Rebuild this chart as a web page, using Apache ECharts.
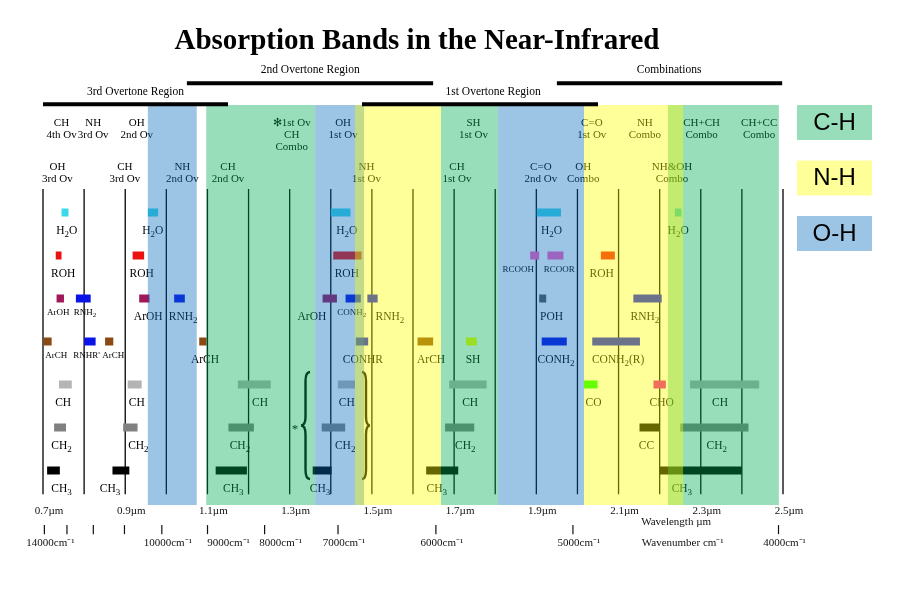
<!DOCTYPE html>
<html><head><meta charset="utf-8">
<script src="https://cdn.jsdelivr.net/npm/echarts/dist/echarts.min.js"></script>
<style>html,body{margin:0;padding:0;background:#fff}#c{width:920px;height:614px}</style>
</head><body><div id="c"></div>
<script>
// ================= DATA =================
const titleText = 'Absorption Bands in the Near-Infrared';
// coloured bands [from µm, to µm]
const bandsCH = [[1.097, 1.362], [1.668, 1.807], [2.22, 2.49]];
const bandsOH = [[0.955, 1.074], [1.362, 1.481], [1.807, 2.016]];
const bandsNH = [[1.459, 1.668], [2.016, 2.257]];
const legendItems = [['C-H', 'CH'], ['N-H', 'NH'], ['O-H', 'OH']];
// vertical guide lines (µm)
const gridLines = [0.7, 0.8, 0.9, 1.0, 1.1, 1.2, 1.3, 1.4, 1.5, 1.6, 1.7, 1.8, 1.9, 2.0, 2.1, 2.2, 2.3, 2.4, 2.5];
// overtone regions [label, from µm, to µm, level, label centre µm]
const regions = [
  ['2nd Overtone Region', 1.05, 1.649, 1, 1.35],
  ['Combinations', 1.95, 2.498, 1, 2.223],
  ['3rd Overtone Region', 0.70, 1.15, 2, 0.925],
  ['1st Overtone Region', 1.476, 2.05, 2, 1.795]
];
// header labels [text, µm]
const headerRow1 = [
  ['CH\n4th Ov', 0.745], ['NH\n3rd Ov', 0.822], ['OH\n2nd Ov', 0.928], ['\u273B1st Ov\nCH\nCombo', 1.305],
  ['OH\n1st Ov', 1.430], ['SH\n1st Ov', 1.747], ['C=O\n1st Ov', 2.035], ['NH\nCombo', 2.164],
  ['CH+CH\nCombo', 2.302], ['CH+CC\nCombo', 2.442]
];
const headerRow2 = [
  ['OH\n3rd Ov', 0.735], ['CH\n3rd Ov', 0.899], ['NH\n2nd Ov', 1.039], ['CH\n2nd Ov', 1.150],
  ['NH\n1st Ov', 1.487], ['CH\n1st Ov', 1.707], ['C=O\n2nd Ov', 1.911], ['OH\nCombo', 2.014], ['NH&OH\nCombo', 2.230]
];
// absorption bars [from µm, to µm, row, group]
const bars = [
  [0.745, 0.762, 0, 'h2o'], [0.955, 0.980, 0, 'h2o'], [1.400, 1.448, 0, 'h2o'], [1.901, 1.960, 0, 'h2o'], [2.237, 2.253, 0, 'h2o'],
  [0.731, 0.745, 1, 'roh'], [0.918, 0.946, 1, 'roh'], [1.406, 1.475, 1, 'roh'], [1.885, 1.907, 1, 'rcoo'], [1.927, 1.966, 1, 'rcoo'], [2.057, 2.091, 1, 'roh'],
  [0.733, 0.751, 2, 'aroh'], [0.780, 0.816, 2, 'rnh'], [0.934, 0.959, 2, 'aroh'], [1.019, 1.045, 2, 'rnh'], [1.380, 1.415, 2, 'aroh'],
  [1.436, 1.473, 2, 'rnh'], [1.489, 1.514, 2, 'rnh'], [1.907, 1.924, 2, 'poh'], [2.136, 2.205, 2, 'rnh'],
  [0.701, 0.721, 3, 'arch'], [0.800, 0.828, 3, 'rnh'], [0.851, 0.871, 3, 'arch'], [1.080, 1.098, 3, 'arch'], [1.461, 1.491, 3, 'rnh'],
  [1.611, 1.649, 3, 'arch'], [1.729, 1.755, 3, 'sh'], [1.913, 1.974, 3, 'rnh'], [2.036, 2.152, 3, 'rnh'],
  [0.739, 0.770, 4, 'ch'], [0.906, 0.940, 4, 'ch'], [1.174, 1.254, 4, 'ch'], [1.417, 1.459, 4, 'ch'], [1.688, 1.779, 4, 'ch'],
  [2.016, 2.049, 4, 'co'], [2.185, 2.215, 4, 'cho'], [2.274, 2.442, 4, 'ch'],
  [0.727, 0.756, 5, 'ch2'], [0.895, 0.930, 5, 'ch2'], [1.151, 1.213, 5, 'ch2'], [1.378, 1.435, 5, 'ch2'], [1.678, 1.749, 5, 'ch2'],
  [2.151, 2.199, 5, 'cc'], [2.250, 2.416, 5, 'ch2'],
  [0.710, 0.741, 6, 'ch3'], [0.869, 0.910, 6, 'ch3'], [1.120, 1.196, 6, 'ch3'], [1.356, 1.402, 6, 'ch3'], [1.632, 1.710, 6, 'ch3'], [2.200, 2.400, 6, 'ch3']
];
// bar labels [text ('_' = subscript), µm, row, small]
const rowLabels = [
  ['H_2O', 0.758, 0, 0], ['H_2O', 0.967, 0, 0], ['H_2O', 1.439, 0, 0], ['H_2O', 1.937, 0, 0], ['H_2O', 2.245, 0, 0],
  ['ROH', 0.749, 1, 0], ['ROH', 0.940, 1, 0], ['ROH', 1.439, 1, 0], ['RCOOH', 1.856, 1, 1], ['RCOOR', 1.956, 1, 1], ['ROH', 2.059, 1, 0],
  ['ArOH', 0.737, 2, 1], ['RNH_2', 0.802, 2, 1], ['ArOH', 0.956, 2, 0], ['RNH_2', 1.041, 2, 0], ['ArOH', 1.354, 2, 0],
  ['CONH_2', 1.451, 2, 1], ['RNH_2', 1.544, 2, 0], ['POH', 1.937, 2, 0], ['RNH_2', 2.164, 2, 0],
  ['ArCH', 0.732, 3, 1], ["RNHR'", 0.806, 3, 1], ['ArCH', 0.871, 3, 1], ['ArCH', 1.094, 3, 0], ['CONHR', 1.478, 3, 0],
  ['ArCH', 1.644, 3, 0], ['SH', 1.746, 3, 0], ['CONH_2', 1.948, 3, 0], ['CONH_2(R)', 2.099, 3, 0],
  ['CH', 0.749, 4, 0], ['CH', 0.928, 4, 0], ['CH', 1.228, 4, 0], ['CH', 1.439, 4, 0], ['CH', 1.739, 4, 0],
  ['CO', 2.039, 4, 0], ['CHO', 2.205, 4, 0], ['CH', 2.347, 4, 0],
  ['CH_2', 0.745, 5, 0], ['CH_2', 0.932, 5, 0], ['CH_2', 1.179, 5, 0], ['CH_2', 1.435, 5, 0], ['CH_2', 1.727, 5, 0],
  ['CC', 2.168, 5, 0], ['CH_2', 2.339, 5, 0],
  ['CH_3', 0.745, 6, 0], ['CH_3', 0.863, 6, 0], ['CH_3', 1.163, 6, 0], ['CH_3', 1.374, 6, 0], ['CH_3', 1.658, 6, 0], ['CH_3', 2.254, 6, 0]
];
// braces around the CH rows [tip µm, end µm, mark]
const braces = [[1.3276, 1.3495, '*'], [1.4954, 1.476, '']];
const braceRows = [4, 6];
// bottom axes
const wavelengthTicks = [0.7, 0.9, 1.1, 1.3, 1.5, 1.7, 1.9, 2.1, 2.3, 2.5];
const wavenumberTicks = [14000, 13000, 12000, 11000, 10000, 9000, 8000, 7000, 6000, 5000, 4000];
const wavenumberLabels = [14000, 10000, 9000, 8000, 7000, 6000, 5000, 4000];
const axisNames = [['Wavelength \u00b5m', 2.240, 'len'], ['Wavenumber cm\u207b\u00b9', 2.256, 'num']];

// ================= STYLE / LAYOUT =================
const SERIF = '"Liberation Serif","Times New Roman",serif';
const SANS = '"Liberation Sans",Arial,sans-serif';
const BAND_FILL = { CH: 'rgba(0,173,83,0.4)', NH: 'rgba(255,255,0,0.4)', OH: 'rgba(5,108,190,0.4)' };
const BAR_COLORS = {
  h2o: '#3cd8e8', roh: '#ee1111', aroh: '#a01858', rnh: '#0a14e6', arch: '#8b4a14', ch: '#b4b4b4',
  ch2: '#808080', ch3: '#000000', rcoo: '#ff60c0', poh: '#555555', sh: '#ffff00', co: '#00ff00', cho: '#e6109a', cc: '#000000'
};
const BAR_H = 8;
const BAND_TOP = -2.5, BAND_BOTTOM = 6.8;
const LINE_TOP = -0.547, LINE_BOTTOM = 6.55;
const HEADER_FIRST_LINE = [-2.08, -1.05];
const HEADER_LH = 11.8;
const REGION_LINE_Y = { 1: -3.005, 2: -2.516 }, REGION_LABEL_Y = { 1: -3.314, 2: -2.81 };
const WL_LABEL_Y = 6.94, WN_TICK_Y0 = 7.27, WN_TICK_Y1 = 7.48, WN_LABEL_Y = 7.68, NAME_Y = { len: 7.19, num: 7.68 };
const WN_TICK_SHIFT = -4.5, WN_LABEL_SHIFT = { 9000: 15, 8000: 10 };

function richText(t) {
  return ('{n|' + t.replace(/_(\d)/g, '}{s|$1}{n|') + '}').replace(/\{n\|\}/g, '');
}

const allBands = [].concat(
  bandsCH.map(b => ['CH', b[0], b[1]]),
  bandsOH.map(b => ['OH', b[0], b[1]]),
  bandsNH.map(b => ['NH', b[0], b[1]])
);
const headers = [].concat(headerRow1.map(h => [h[0], h[1], 0]), headerRow2.map(h => [h[0], h[1], 1]));

const chart = echarts.init(document.getElementById('c'));
const option = {
  animation: false,
  backgroundColor: '#fff',
  grid: { left: 43, width: 740, top: 40.5, height: 537.5 },
  xAxis: { type: 'value', min: 0.7, max: 2.5, show: false },
  yAxis: { type: 'value', min: -4, max: 8.5, inverse: true, show: false },
  graphic: [
    { type: 'text', x: 417, y: 42, z: 100, style: { text: titleText, align: 'center', verticalAlign: 'middle', fill: '#000', font: 'bold 29px ' + SERIF } }
  ].concat(legendItems.map((l, i) => ({
    type: 'group', x: 797, y: 105 + 55.5 * i, z: 100,
    children: [
      { type: 'rect', shape: { x: 0, y: 0, width: 75, height: 35 }, style: { fill: BAND_FILL[l[1]] } },
      { type: 'text', x: 37.5, y: 18, style: { text: l[0], align: 'center', verticalAlign: 'middle', fill: '#000', font: '24px ' + SANS } }
    ]
  }))),
  series: [
    { // vertical guide lines
      type: 'custom', z: 1, silent: true, data: gridLines.map(v => [v, 0]),
      renderItem: (p, api) => {
        const v = gridLines[p.dataIndex];
        const a = api.coord([v, LINE_TOP]), b = api.coord([v, LINE_BOTTOM]);
        return { type: 'line', shape: { x1: a[0], y1: a[1], x2: b[0], y2: b[1] }, style: { stroke: '#000', lineWidth: 1.3 } };
      }
    },
    { // absorption bars
      type: 'custom', z: 2, silent: true, data: bars.map(b => [b[0], b[2]]),
      renderItem: (p, api) => {
        const b = bars[p.dataIndex];
        const a = api.coord([b[0], b[2]]), c = api.coord([b[1], b[2]]);
        return { type: 'rect', shape: { x: a[0], y: a[1] - BAR_H / 2, width: c[0] - a[0], height: BAR_H }, style: { fill: BAR_COLORS[b[3]] } };
      }
    },
    { // bar labels
      type: 'custom', z: 3, silent: true, data: rowLabels.map(l => [l[1], l[2]]),
      renderItem: (p, api) => {
        const l = rowLabels[p.dataIndex];
        const small = l[3] === 1;
        const fs = small ? 9 : 11.5;
        const pt = api.coord([l[1], l[2]]);
        return {
          type: 'text', x: pt[0], y: pt[1] + (small ? 14 : 18),
          style: {
            text: richText(l[0]), align: 'center', verticalAlign: 'middle', fill: '#000',
            rich: {
              n: { fontSize: fs, fontFamily: SERIF, fill: '#000' },
              s: { fontSize: small ? 7 : 9, fontFamily: SERIF, fill: '#000', padding: [small ? 6 : 8, 0, 0, 0] }
            }
          }
        };
      }
    },
    { // header labels
      type: 'custom', z: 3, silent: true, data: headers.map(h => [h[1], HEADER_FIRST_LINE[h[2]]]),
      renderItem: (p, api) => {
        const h = headers[p.dataIndex];
        const pt = api.coord([h[1], HEADER_FIRST_LINE[h[2]]]);
        return {
          type: 'text', x: pt[0], y: pt[1] - HEADER_LH / 2,
          style: { text: h[0], align: 'center', verticalAlign: 'top', lineHeight: HEADER_LH, fill: '#000', fontSize: 11, fontFamily: SERIF }
        };
      }
    },
    { // braces
      type: 'custom', z: 3, silent: true, data: braces.map(b => [b[0], braceRows[0]]),
      renderItem: (p, api) => {
        const b = braces[p.dataIndex];
        const top = api.coord([b[1], braceRows[0] - 0.29]);
        const bot = api.coord([b[1], braceRows[1] + 0.2]);
        const tipX = api.coord([b[0], 0])[0];
        const endX = top[0];
        const midX = (tipX + endX) / 2;
        const yT = top[1], yB = bot[1], yC = (yT + yB) / 2, d = 9;
        const path = 'M' + endX + ' ' + yT + ' Q' + midX + ' ' + yT + ' ' + midX + ' ' + (yT + d) +
          ' L' + midX + ' ' + (yC - d) + ' Q' + midX + ' ' + yC + ' ' + tipX + ' ' + yC +
          ' Q' + midX + ' ' + yC + ' ' + midX + ' ' + (yC + d) +
          ' L' + midX + ' ' + (yB - d) + ' Q' + midX + ' ' + yB + ' ' + endX + ' ' + yB;
        const children = [{ type: 'path', shape: { pathData: path }, style: { fill: 'none', stroke: '#000', lineWidth: 2.4 } }];
        if (b[2]) children.push({ type: 'text', x: tipX - 6, y: yC + 4, style: { text: b[2], align: 'center', verticalAlign: 'middle', fill: '#000', fontSize: 13, fontFamily: SERIF } });
        return { type: 'group', children: children };
      }
    },
    { // translucent coloured bands (on top, tinting what is under them)
      type: 'custom', z: 5, silent: true, data: allBands.map(b => [b[1], BAND_TOP]),
      renderItem: (p, api) => {
        const b = allBands[p.dataIndex];
        const a = api.coord([b[1], BAND_TOP]), c = api.coord([b[2], BAND_BOTTOM]);
        return { type: 'rect', shape: { x: a[0], y: a[1], width: c[0] - a[0], height: c[1] - a[1] }, style: { fill: BAND_FILL[b[0]] } };
      }
    },
    { // overtone region bars and titles
      type: 'custom', z: 6, silent: true, data: regions.map(r => [r[1], REGION_LINE_Y[r[3]]]),
      renderItem: (p, api) => {
        const r = regions[p.dataIndex];
        const a = api.coord([r[1], REGION_LINE_Y[r[3]]]), c = api.coord([r[2], REGION_LINE_Y[r[3]]]);
        const t = api.coord([r[4], REGION_LABEL_Y[r[3]]]);
        return {
          type: 'group', children: [
            { type: 'rect', shape: { x: a[0], y: a[1] - 2, width: c[0] - a[0], height: 4 }, style: { fill: '#000' } },
            { type: 'text', x: t[0], y: t[1], style: { text: r[0], align: 'center', verticalAlign: 'middle', fill: '#000', fontSize: 11.5, fontFamily: SERIF } }
          ]
        };
      }
    },
    { // wavelength labels
      type: 'custom', z: 6, silent: true, data: wavelengthTicks.map(v => [v, WL_LABEL_Y]),
      renderItem: (p, api) => {
        const v = wavelengthTicks[p.dataIndex];
        const pt = api.coord([v, WL_LABEL_Y]);
        return { type: 'text', x: pt[0] + 6, y: pt[1], style: { text: v.toFixed(1) + '\u00b5m', align: 'center', verticalAlign: 'middle', fill: '#111', fontSize: 11, fontFamily: SERIF } };
      }
    },
    { // wavenumber ticks
      type: 'custom', z: 6, silent: true, data: wavenumberTicks.map(w => [1e4 / w, WN_TICK_Y0]),
      renderItem: (p, api) => {
        const w = wavenumberTicks[p.dataIndex];
        const a = api.coord([1e4 / w, WN_TICK_Y0]), b = api.coord([1e4 / w, WN_TICK_Y1]);
        const x = a[0] + WN_TICK_SHIFT;
        return { type: 'line', shape: { x1: x, y1: a[1], x2: x, y2: b[1] }, style: { stroke: '#111', lineWidth: 1.2 } };
      }
    },
    { // wavenumber labels
      type: 'custom', z: 6, silent: true, data: wavenumberLabels.map(w => [1e4 / w, WN_LABEL_Y]),
      renderItem: (p, api) => {
        const w = wavenumberLabels[p.dataIndex];
        const pt = api.coord([1e4 / w, WN_LABEL_Y]);
        const x = pt[0] + WN_TICK_SHIFT + 6 + (WN_LABEL_SHIFT[w] || 0);
        return { type: 'text', x: x, y: pt[1], style: { text: w + 'cm\u207b\u00b9', align: 'center', verticalAlign: 'middle', fill: '#111', fontSize: 11, fontFamily: SERIF } };
      }
    },
    { // axis names
      type: 'custom', z: 6, silent: true, data: axisNames.map(n => [n[1], NAME_Y[n[2]]]),
      renderItem: (p, api) => {
        const n = axisNames[p.dataIndex];
        const pt = api.coord([n[1], NAME_Y[n[2]]]);
        return { type: 'text', x: pt[0], y: pt[1], style: { text: n[0], align: 'center', verticalAlign: 'middle', fill: '#111', fontSize: 11, fontFamily: SERIF } };
      }
    }
  ]
};
chart.setOption(option);
</script>
</body></html>
